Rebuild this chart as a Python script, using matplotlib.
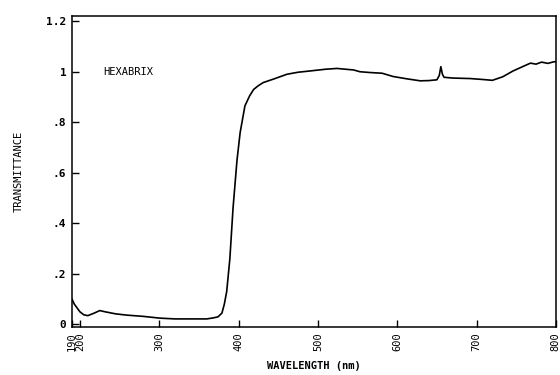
import numpy as np
import matplotlib
matplotlib.use("Agg")
import matplotlib.pyplot as plt

# spectrum (wavelength nm, transmittance)
wavelength = [190, 193, 200, 205, 210, 218, 225, 232, 245, 259, 280, 301, 320, 343,
              360, 368, 374, 379, 382, 385, 389, 393, 398, 402, 408, 414, 419, 425,
              431, 445, 461, 475, 490, 510, 524, 545, 553, 565, 581, 595, 612, 629,
              640, 650, 653, 655, 657, 659, 670, 692, 705, 720, 733, 746, 758, 768,
              775, 782, 790, 797, 800]
transmittance = [0.10, 0.08, 0.05, 0.038, 0.035, 0.045, 0.055, 0.05, 0.042, 0.037, 0.032,
                 0.025, 0.022, 0.022, 0.022, 0.026, 0.03, 0.045, 0.08, 0.13, 0.26, 0.46,
                 0.65, 0.76, 0.865, 0.905, 0.93, 0.945, 0.957, 0.972, 0.99, 0.998, 1.003,
                 1.01, 1.013, 1.007, 1.0, 0.997, 0.994, 0.981, 0.972, 0.964, 0.965, 0.968,
                 0.985, 1.02, 0.99, 0.978, 0.975, 0.973, 0.97, 0.966, 0.98, 1.003, 1.02,
                 1.034, 1.03, 1.038, 1.033, 1.039, 1.04]

xticks = [190, 200, 300, 400, 500, 600, 700, 800]
yticks = [0, 0.2, 0.4, 0.6, 0.8, 1.0, 1.2]
ylabels = ["0", ".2", ".4", ".6", ".8", "1", "1.2"]

plt.rcParams['font.family'] = ['DejaVu Sans Mono']

fig = plt.figure(figsize=(5.6, 3.75), dpi=100)
ax = fig.add_axes([0.1286, 0.128, 0.864, 0.829])

ax.plot(wavelength, transmittance, color="black", lw=1.2)

ax.set_xlim(190, 800)
ax.set_ylim(-0.01, 1.22)
ax.set_xticks(xticks)
ax.set_xticklabels([str(t) for t in xticks], rotation=90, fontsize=7.5)
ax.set_yticks(yticks)
ax.set_yticklabels(ylabels, fontsize=8, fontweight="bold")
ax.tick_params(direction="in", length=5, width=1, pad=4)

for s in ax.spines.values():
    s.set_linewidth(1.1)

ax.text(229, 1.0, "HEXABRIX", fontsize=7.5, ha="left", va="center")
ax.set_xlabel("WAVELENGTH (nm)", fontsize=7.5, fontweight="bold", labelpad=7)
ax.set_ylabel("TRANSMITTANCE", fontsize=7.5, labelpad=16)

fig.savefig("out.png", dpi=100)
